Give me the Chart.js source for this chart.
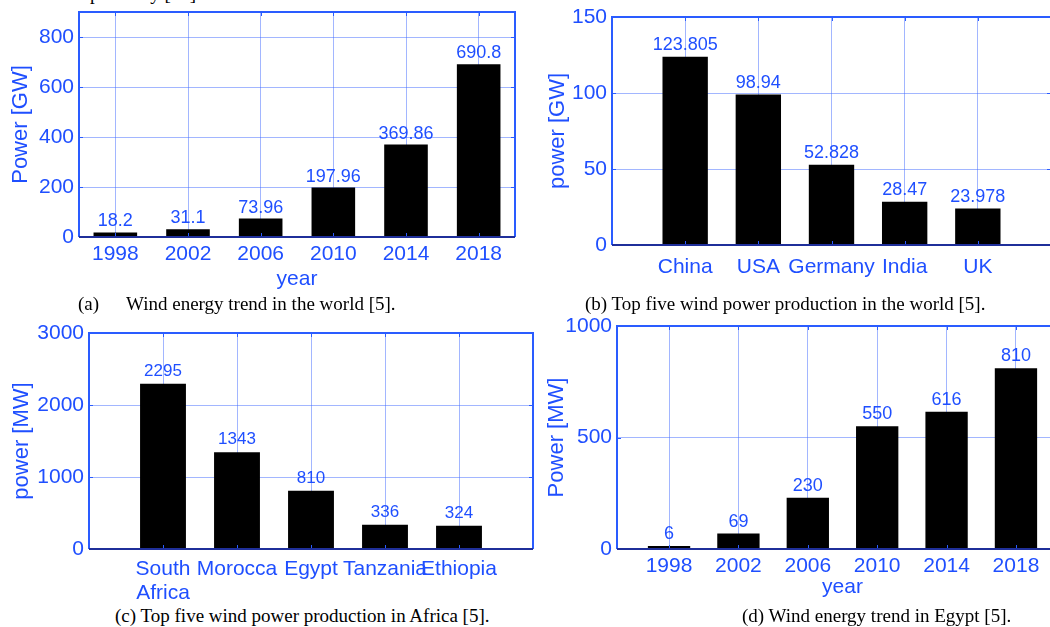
<!DOCTYPE html>
<html>
<head>
<meta charset="utf-8">
<script src="https://cdn.jsdelivr.net/npm/chart.js"></script>
<style>
  html, body { margin: 0; padding: 0; width: 1050px; height: 627px; overflow: hidden; background: #fff; }
  canvas { position: absolute; }
  .cap { position: absolute; font-family: 'Liberation Serif', 'Times New Roman', serif; font-size: 19px; color: #000; white-space: pre; line-height: 1; }
</style>
</head>
<body>
<div class="cap" style="left:90px;top:-16px">presently [14].</div>

<canvas id="chartA" width="525" height="292" style="left:0;top:0"></canvas>
<canvas id="chartB" width="530" height="285" style="left:525px;top:0"></canvas>
<canvas id="chartC" width="540" height="293" style="left:0;top:312px"></canvas>
<canvas id="chartD" width="560" height="288" style="left:525px;top:312px"></canvas>

<div class="cap" style="left:78px;top:294px">(a)</div>
<div class="cap" style="left:126px;top:294px">Wind energy trend in the world [5].</div>
<div class="cap" style="left:585px;top:294px">(b) Top five wind power production in the world [5].</div>
<div class="cap" style="left:115px;top:606px">(c) Top five wind power production in Africa [5].</div>
<div class="cap" style="left:742px;top:606px">(d) Wind energy trend in Egypt [5].</div>

<script>
// (a) world trend
const yearsWorld = ['1998', '2002', '2006', '2010', '2014', '2018'];
const powerWorld = [18.2, 31.1, 73.96, 197.96, 369.86, 690.8];
const ticksWorld = [0, 200, 400, 600, 800];

// (b) top five in the world
const countriesTop = ['China', 'USA', 'Germany', 'India', 'UK'];
const powerTop = [123.805, 98.94, 52.828, 28.47, 23.978];
const ticksTop = [0, 50, 100, 150];

// (c) top five in Africa
const countriesAfrica = [['South', 'Africa'], 'Morocca', 'Egypt', 'Tanzania', 'Ethiopia'];
const powerAfrica = [2295, 1343, 810, 336, 324];
const ticksAfrica = [0, 1000, 2000, 3000];

// (d) Egypt trend
const yearsEgypt = ['1998', '2002', '2006', '2010', '2014', '2018'];
const powerEgypt = [6, 69, 230, 550, 616, 810];
const ticksEgypt = [0, 500, 1000];

const BLUE = '#1f4fff';
const FRAME = '#2a5cff';
const NAVY = '#1f2f9a';
const GRID = 'rgba(70,110,255,0.5)';
const SANS = "'Liberation Sans', Arial, Helvetica, sans-serif";

// numbers written above each bar
const valueLabels = {
    id: 'valueLabels',
    afterDatasetsDraw(chart, args, opts) {
        const ctx = chart.ctx;
        const meta = chart.getDatasetMeta(0);
        const data = chart.data.datasets[0].data;
        ctx.save();
        ctx.fillStyle = BLUE;
        ctx.font = opts.size + 'px ' + SANS;
        ctx.textAlign = 'center';
        ctx.textBaseline = 'alphabetic';
        meta.data.forEach((bar, i) => {
            ctx.fillText(String(data[i].y), bar.x, bar.y - opts.gap);
        });
        ctx.restore();
    }
};

// box around the plot with small inward ticks (matlab style)
const frame = {
    id: 'frame',
    afterDraw(chart) {
        const { ctx, chartArea: a, scales: { x, y } } = chart;
        ctx.save();
        ctx.strokeStyle = FRAME;
        ctx.lineWidth = 1;
        ctx.beginPath();
        x.ticks.forEach(t => {
            const px = Math.round(x.getPixelForValue(t.value)) + 0.5;
            ctx.moveTo(px, a.top); ctx.lineTo(px, a.top + 4);
            ctx.moveTo(px, a.bottom); ctx.lineTo(px, a.bottom - 4);
        });
        y.ticks.forEach(t => {
            const py = Math.round(y.getPixelForValue(t.value)) + 0.5;
            ctx.moveTo(a.left, py); ctx.lineTo(a.left + 4, py);
            ctx.moveTo(a.right, py); ctx.lineTo(a.right - 4, py);
        });
        ctx.stroke();

        ctx.lineWidth = 2;
        ctx.beginPath();
        ctx.moveTo(a.left, a.bottom);
        ctx.lineTo(a.left, a.top);
        ctx.lineTo(a.right, a.top);
        ctx.lineTo(a.right, a.bottom);
        ctx.stroke();
        ctx.strokeStyle = NAVY;
        ctx.beginPath();
        ctx.moveTo(a.left, a.bottom);
        ctx.lineTo(a.right, a.bottom);
        ctx.stroke();
        ctx.restore();
    }
};

function makePanel(id, p) {
    const canvas = document.getElementById(id);
    const W = canvas.width, H = canvas.height;
    return new Chart(canvas, {
        type: 'bar',
        data: {
            datasets: [{
                data: p.values.map((v, i) => ({ x: i + 1, y: v })),
                backgroundColor: '#000',
                borderWidth: 0,
                minBarLength: 3,
                barPercentage: p.barPct,
                categoryPercentage: 1
            }]
        },
        options: {
            responsive: false,
            animation: false,
            devicePixelRatio: 1,
            layout: { padding: { left: 0, top: p.area.top, right: W - p.area.right, bottom: 0 } },
            plugins: {
                legend: { display: false },
                tooltip: { enabled: false },
                valueLabels: { size: p.valueSize, gap: p.valueGap }
            },
            scales: {
                x: {
                    type: 'linear',
                    min: p.xMin,
                    max: p.xMax,
                    offset: false,
                    grid: { color: GRID, offset: false, drawTicks: false },
                    border: { display: false },
                    afterBuildTicks: s => { s.ticks = p.labels.map((_, i) => ({ value: i + 1 })); },
                    ticks: {
                        color: BLUE,
                        font: { family: SANS, size: 21, lineHeight: 1.15 },
                        padding: p.xPad,
                        maxRotation: 0,
                        autoSkip: false,
                        callback: v => p.labels[v - 1]
                    },
                    title: {
                        display: !!p.xTitle,
                        text: p.xTitle || '',
                        color: BLUE,
                        font: { family: SANS, size: 21 },
                        padding: { top: 0, bottom: 0 }
                    },
                    afterFit: s => {
                        s.height = H - p.area.bottom;
                        s.paddingLeft = 0; s.paddingRight = 0;
                    }
                },
                y: {
                    min: 0,
                    max: p.yMax,
                    afterBuildTicks: s => { s.ticks = p.yTicks.map(v => ({ value: v })); },
                    grid: { color: GRID, drawTicks: false },
                    border: { display: false },
                    ticks: {
                        color: BLUE,
                        font: { family: SANS, size: 21 },
                        padding: 5,
                        callback: v => String(v)
                    },
                    title: {
                        display: true,
                        text: p.yTitle,
                        color: BLUE,
                        font: { family: SANS, size: 22 },
                        padding: { top: p.yTitlePad, bottom: 0 }
                    },
                    afterFit: s => {
                        s.width = p.area.left;
                        s.paddingTop = 0; s.paddingBottom = 0;
                    }
                }
            }
        },
        plugins: [valueLabels, frame]
    });
}

makePanel('chartA', {
    labels: yearsWorld, values: powerWorld, yTicks: ticksWorld, yMax: 900,
    xMin: 0.5, xMax: 6.5, barPct: 0.6,
    area: { left: 79, top: 12, right: 515, bottom: 237 },
    xPad: 5, yTitle: 'Power [GW]', yTitlePad: 8, xTitle: 'year',
    valueSize: 18, valueGap: 6
});

makePanel('chartB', {
    labels: countriesTop, values: powerTop, yTicks: ticksTop, yMax: 150,
    xMin: 0, xMax: 6, barPct: 0.62,
    area: { left: 87, top: 17, right: 526, bottom: 245 },
    xPad: 10, yTitle: 'power [GW]', yTitlePad: 20,
    valueSize: 18, valueGap: 7
});

makePanel('chartC', {
    labels: countriesAfrica, values: powerAfrica, yTicks: ticksAfrica, yMax: 3000,
    xMin: 0, xMax: 6, barPct: 0.62,
    area: { left: 89, top: 21, right: 533, bottom: 237 },
    xPad: 8, yTitle: 'power [MW]', yTitlePad: 9,
    valueSize: 17, valueGap: 8
});

makePanel('chartD', {
    labels: yearsEgypt, values: powerEgypt, yTicks: ticksEgypt, yMax: 1000,
    xMin: 0.25, xMax: 6.75, barPct: 0.61,
    area: { left: 92, top: 14, right: 543, bottom: 237 },
    xPad: 5, yTitle: 'Power [MW]', yTitlePad: 19, xTitle: 'year',
    valueSize: 18, valueGap: 7
});
</script>
</body>
</html>
